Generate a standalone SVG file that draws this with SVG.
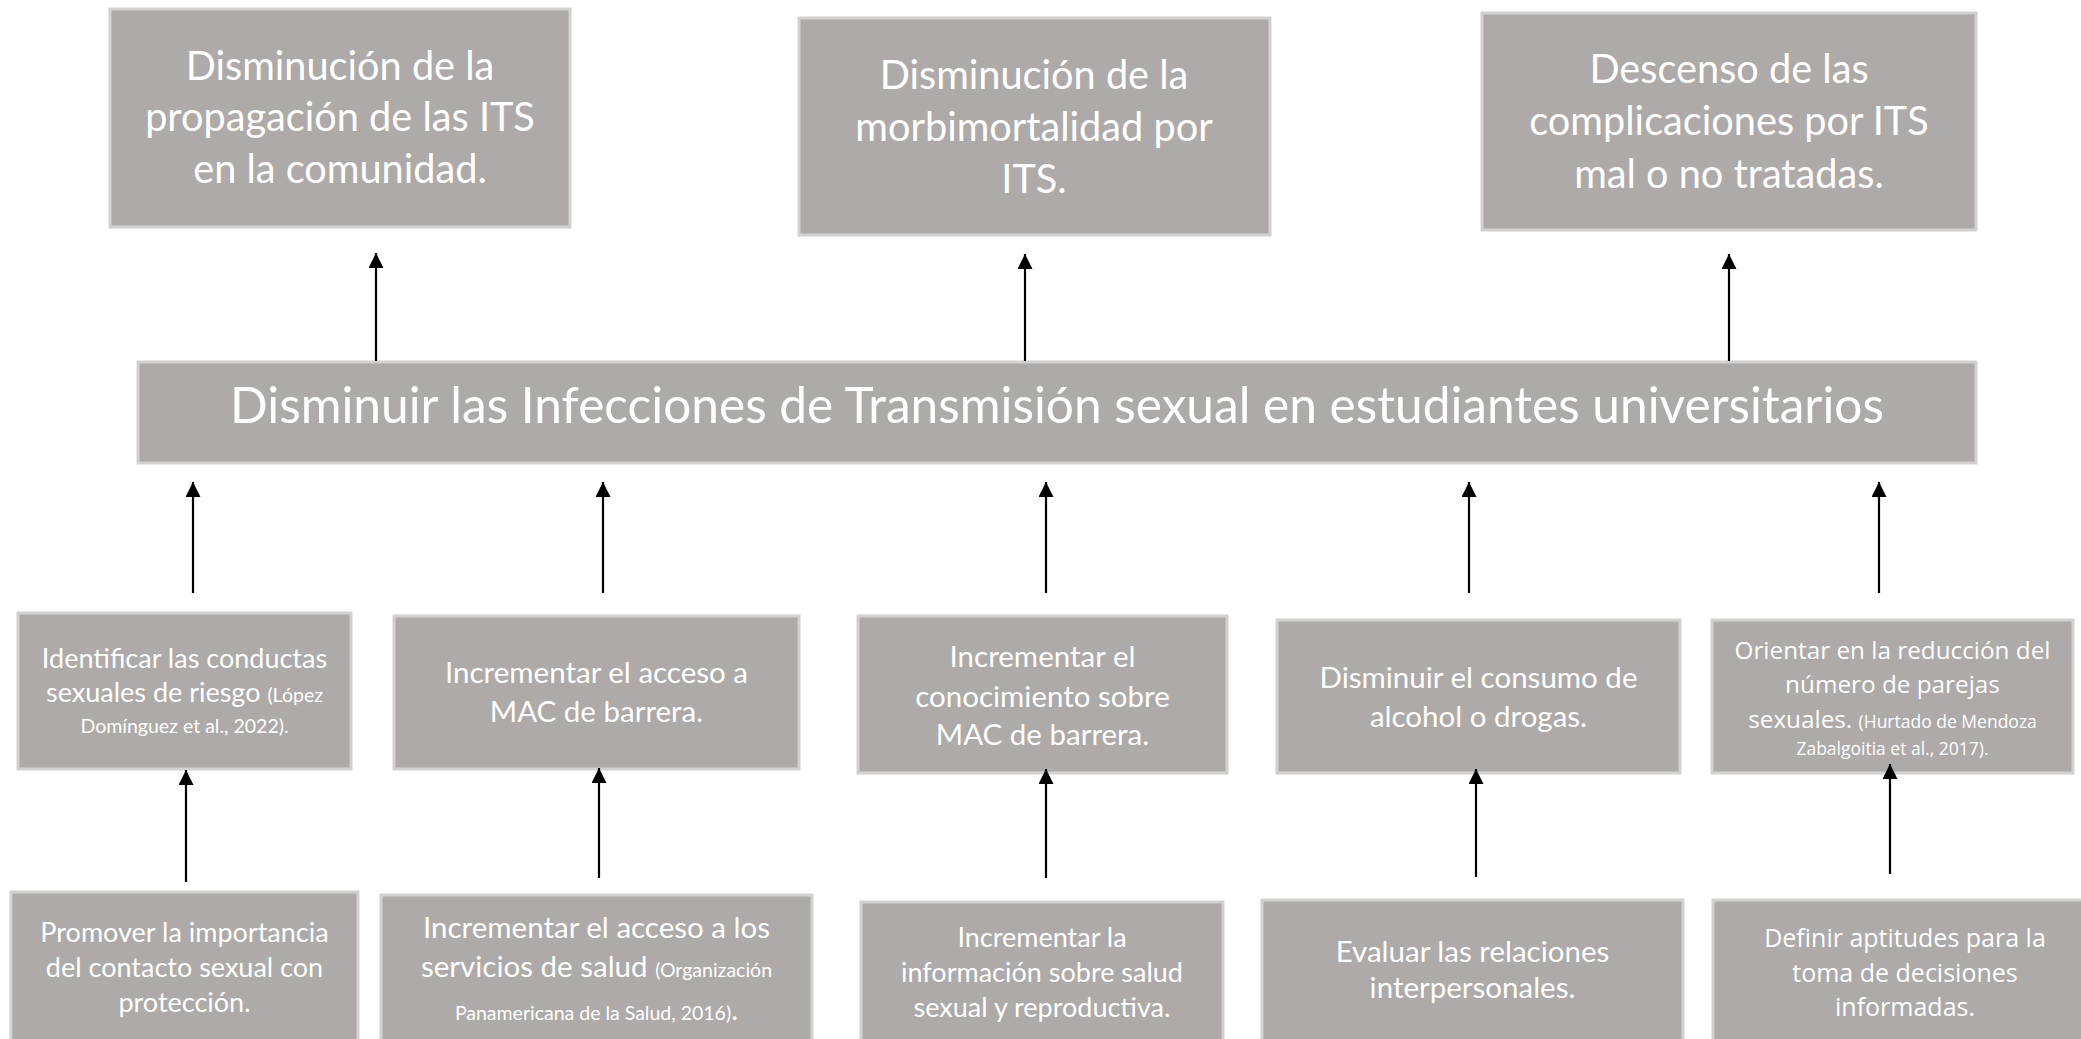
<svg xmlns="http://www.w3.org/2000/svg" width="2081" height="1039" viewBox="0 0 2081 1039">
<style>
.box{fill:#ADAAA9;stroke:#D3D1D0;stroke-width:3}
.t{font-family:Lato,"Liberation Sans",sans-serif;fill:#FFFFFF;text-anchor:middle}
.o{font-family:"Open Sans","Liberation Sans",sans-serif;fill:#FFFFFF;text-anchor:middle}
.xl{font-size:49.6px}
.l{font-size:39.7px}
.m{font-size:29.5px}
.n{font-size:27px}
.sm{font-size:19.5px}
.conn line{stroke:#000;stroke-width:2.2;marker-end:url(#ah)}
</style>
<defs>
<marker id="ah" viewBox="0 0 10 10" refX="10" refY="5" markerWidth="15" markerHeight="15" markerUnits="userSpaceOnUse" orient="auto">
<path d="M0,0 L10,5 L0,10 z" fill="#000"/>
</marker>
</defs>
<rect width="2081" height="1039" fill="#FFFFFF"/>

<g id="n-propagacion">
<rect class="box" x="110" y="9" width="460" height="218"/>
<text class="t l" x="340" y="80">Disminución de la</text>
<text class="t l" x="340" y="131">propagación de las ITS</text>
<text class="t l" x="340" y="183">en la comunidad.</text>
</g>
<g id="n-morbimortalidad">
<rect class="box" x="799" y="18" width="471" height="217"/>
<text class="t l" x="1034" y="89">Disminución de la</text>
<text class="t l" x="1034" y="141">morbimortalidad por</text>
<text class="t l" x="1034" y="193">ITS.</text>
</g>
<g id="n-complicaciones">
<rect class="box" x="1482" y="13" width="494" height="217"/>
<text class="t l" x="1729" y="83">Descenso de las</text>
<text class="t l" x="1729" y="135">complicaciones por ITS</text>
<text class="t l" x="1729" y="188">mal o no tratadas.</text>
</g>

<g id="n-objetivo">
<rect class="box" x="138" y="362" width="1838" height="101"/>
<text class="t xl" x="1057" y="423">Disminuir las Infecciones de Transmisión sexual en estudiantes universitarios</text>
</g>

<g id="n-conductas">
<rect class="box" x="18" y="613" width="333" height="156"/>
<text class="t n" x="184.5" y="668">Identificar las conductas</text>
<text class="t n" x="184.5" y="702">sexuales de riesgo <tspan class="sm">(López</tspan></text>
<text class="t sm" x="184.5" y="733">Domínguez et al., 2022).</text>
</g>
<g id="n-acceso-mac">
<rect class="box" x="394" y="616" width="405" height="153"/>
<text class="t m" x="596.5" y="683">Incrementar el acceso a</text>
<text class="t m" x="596.5" y="722">MAC de barrera.</text>
</g>
<g id="n-conocimiento">
<rect class="box" x="858" y="616" width="369" height="157"/>
<text class="t m" x="1042.5" y="667">Incrementar el</text>
<text class="t m" x="1042.5" y="707">conocimiento sobre</text>
<text class="t m" x="1042.5" y="745">MAC de barrera.</text>
</g>
<g id="n-alcohol">
<rect class="box" x="1277" y="620" width="403" height="153"/>
<text class="t m" x="1478.5" y="688">Disminuir el consumo de</text>
<text class="t m" x="1478.5" y="727">alcohol o drogas.</text>
</g>
<g id="n-parejas">
<rect class="box" x="1712" y="620" width="361" height="153"/>
<text class="o" x="1892.5" y="659" font-size="24.3">Orientar en la reducción del</text>
<text class="o" x="1892.5" y="693" font-size="24.3">número de parejas</text>
<text class="o" x="1892.5" y="728" font-size="24.3">sexuales. <tspan font-size="17.5">(Hurtado de Mendoza</tspan></text>
<text class="o" x="1892.5" y="755" font-size="17.5">Zabalgoitia et al., 2017).</text>
</g>

<g id="n-promover">
<rect class="box" x="11" y="892" width="347" height="155"/>
<text class="t n" x="184.5" y="942">Promover la importancia</text>
<text class="t n" x="184.5" y="977">del contacto sexual con</text>
<text class="t n" x="184.5" y="1012">protección.</text>
</g>
<g id="n-servicios">
<rect class="box" x="381" y="895" width="431" height="152"/>
<text class="t m" x="596.5" y="938">Incrementar el acceso a los</text>
<text class="t m" x="596.5" y="977">servicios de salud <tspan class="sm">(Organización</tspan></text>
<text class="t sm" x="596.5" y="1020">Panamericana de la Salud, 2016)<tspan class="m">.</tspan></text>
</g>
<g id="n-informacion">
<rect class="box" x="861" y="902" width="362" height="145"/>
<text class="t n" x="1042" y="947">Incrementar la</text>
<text class="t n" x="1042" y="982">información sobre salud</text>
<text class="t n" x="1042" y="1017">sexual y reproductiva.</text>
</g>
<g id="n-relaciones">
<rect class="box" x="1262" y="900" width="421" height="147"/>
<text class="t m" x="1472.5" y="962">Evaluar las relaciones</text>
<text class="t m" x="1472.5" y="998">interpersonales.</text>
</g>
<g id="n-aptitudes">
<rect class="box" x="1713" y="900" width="384" height="147"/>
<text class="o" x="1905" y="947" font-size="25">Definir aptitudes para la</text>
<text class="o" x="1905" y="982" font-size="25">toma de decisiones</text>
<text class="o" x="1905" y="1016" font-size="25">informadas.</text>
</g>

<g id="connectors" class="conn">
<line x1="376" y1="361" x2="376" y2="253"/>
<line x1="1025" y1="361" x2="1025" y2="254"/>
<line x1="1729" y1="361" x2="1729" y2="254"/>
<line x1="193" y1="593" x2="193" y2="482"/>
<line x1="603" y1="593" x2="603" y2="482"/>
<line x1="1046" y1="593" x2="1046" y2="482"/>
<line x1="1469" y1="593" x2="1469" y2="482"/>
<line x1="1879" y1="593" x2="1879" y2="482"/>
<line x1="186" y1="882" x2="186" y2="770"/>
<line x1="599" y1="878" x2="599" y2="768"/>
<line x1="1046" y1="878" x2="1046" y2="769"/>
<line x1="1476" y1="877" x2="1476" y2="769"/>
<line x1="1890" y1="874" x2="1890" y2="764"/>
</g>
</svg>
